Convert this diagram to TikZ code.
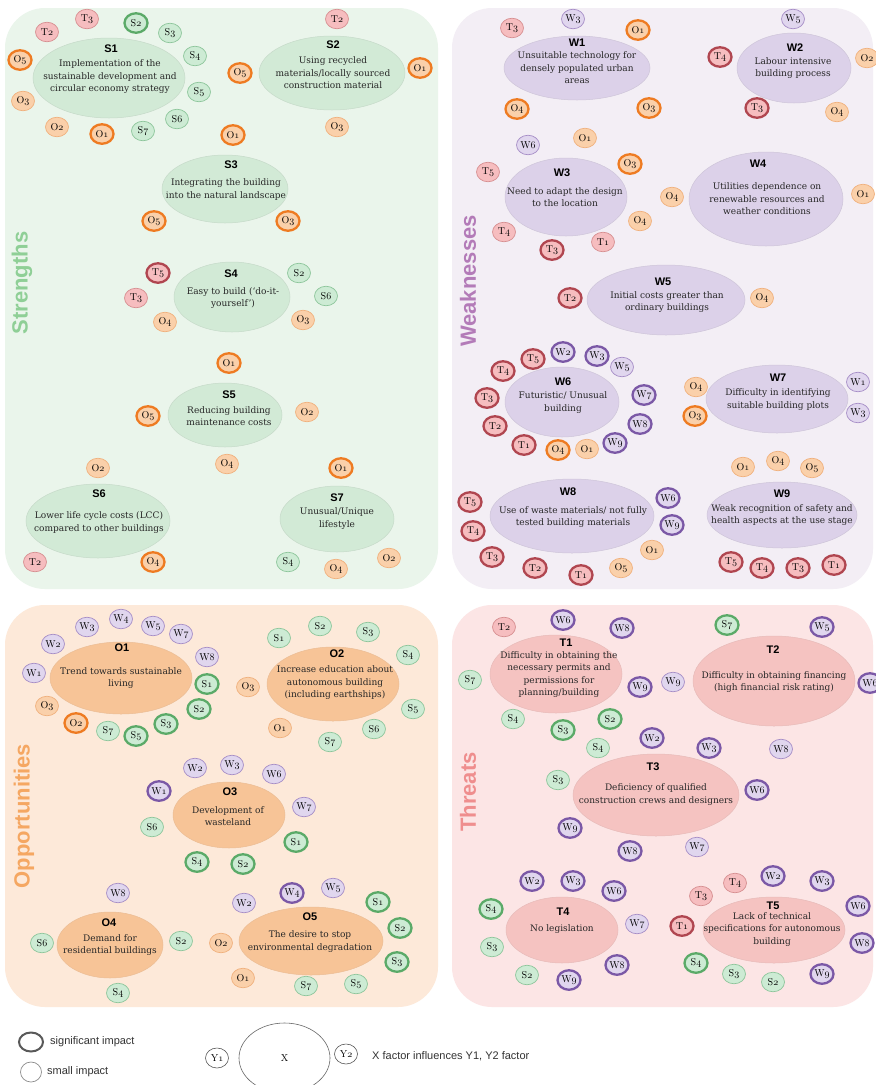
\documentclass[tikz,border=0pt]{standalone}
\usepackage{fontspec}
\newfontfamily\bodyfont{DejaVu Serif}
\newfontfamily\headfont{Liberation Sans}
\usetikzlibrary{shapes.geometric}
\definecolor{Sbg}{HTML}{EAF5EB}
\definecolor{Wbg}{HTML}{F3EEF5}
\definecolor{Obg}{HTML}{FDE9D9}
\definecolor{Tbg}{HTML}{FCE5E5}
\definecolor{Sbig}{HTML}{D2EAD6}
\definecolor{Wbig}{HTML}{DCD1E9}
\definecolor{Obig}{HTML}{F7C497}
\definecolor{Tbig}{HTML}{F5C3C1}
\definecolor{Sf}{HTML}{CDEBD4}
\definecolor{Sl}{HTML}{8CC59A}
\definecolor{Sd}{HTML}{5BAA68}
\definecolor{Of}{HTML}{FAD0AA}
\definecolor{Ol}{HTML}{F0B07C}
\definecolor{Od}{HTML}{EE7B22}
\definecolor{Tf}{HTML}{F6BDBF}
\definecolor{Tl}{HTML}{D68E90}
\definecolor{Td}{HTML}{B04650}
\definecolor{Wf}{HTML}{E0D6EE}
\definecolor{Wl}{HTML}{A58CC6}
\definecolor{Wd}{HTML}{7B58A6}
\definecolor{Slab}{HTML}{8FCF96}
\definecolor{Wlab}{HTML}{B37BB8}
\definecolor{Olab}{HTML}{F5A762}
\definecolor{Tlab}{HTML}{EF8E8E}
\definecolor{legtxtcol}{HTML}{333333}
\tikzset{
  sc/.style={ellipse, minimum width=23pt, minimum height=19.5pt, inner sep=0pt, font=\fontsize{10}{12}\selectfont},
  sthin/.style={sc, fill=Sf, draw=Sl, line width=0.7pt},
  sthick/.style={sc, fill=Sf, draw=Sd, line width=2.3pt},
  othin/.style={sc, fill=Of, draw=Ol, line width=0.7pt},
  othick/.style={sc, fill=Of, draw=Od, line width=2.3pt},
  tthin/.style={sc, fill=Tf, draw=Tl, line width=0.7pt},
  tthick/.style={sc, fill=Tf, draw=Td, line width=2.3pt},
  wthin/.style={sc, fill=Wf, draw=Wl, line width=0.7pt},
  wthick/.style={sc, fill=Wf, draw=Wd, line width=2.3pt},
  bigbase/.style={ellipse, inner sep=0pt, line width=0.5pt},
  bigS/.style={bigbase, fill=Sbig, draw=Sbig!85!gray},
  bigW/.style={bigbase, fill=Wbig, draw=Wbig!85!gray},
  bigO/.style={bigbase, fill=Obig, draw=Obig!90!gray},
  bigT/.style={bigbase, fill=Tbig, draw=Tbig!88!gray},
  hd/.style={inner sep=0pt, font=\headfont\bfseries\fontsize{11}{12}\selectfont},
  bt/.style={inner sep=0pt, align=center, text=black!85, font=\bodyfont\fontsize{9}{12.5}\selectfont},
  vlab/.style={inner sep=0pt, rotate=90, font=\headfont\bfseries\fontsize{22}{24}\selectfont},
  legtxt/.style={inner sep=0pt, text=legtxtcol, font=\headfont\fontsize{11}{12}\selectfont},
  legsm/.style={ellipse, minimum width=23pt, minimum height=20pt, inner sep=0pt, draw=black!65, line width=0.6pt, fill=white, font=\fontsize{10}{12}\selectfont},
}
\newcommand\sn[5]{\node[#1] (#2) at (#3) {#4$\mathnormal{#5}$};}
\newcommand\bigel[8]{\node[#1, minimum width=#4pt, minimum height=#5pt] (#2) at (#3) {};
  \node[hd] (#2h) at (#6) {#2};
  \node[bt] (#2t) at (#7) {#8};}
\begin{document}
\begin{tikzpicture}[x=1pt, y=-1pt]
\useasboundingbox (0,0) rectangle (876,1085);
\fill[white] (0,0) rectangle (876,1085);
% panels
\fill[Sbg, rounded corners=40pt] (5,8) rectangle (438,589);
\fill[Wbg, rounded corners=40pt] (452,8) rectangle (873,589);
\fill[Obg, rounded corners=40pt] (5,605) rectangle (438,1007);
\fill[Tbg, rounded corners=40pt] (452,605) rectangle (873,1007);
% vertical labels
\node[vlab, text=Slab] (Ls) at (22,283) {Strengths};
\node[vlab, text=Wlab] (Lw) at (468,281) {Weaknesses};
\node[vlab, text=Olab] (Lo) at (24,816) {Opportunities};
\node[vlab, text=Tlab] (Lt) at (468,792) {Threats};
% big ellipses
\bigel{bigS}{S1}{109,78}{152}{80}{111,49}{110,77}{Implementation of the\\sustainable development and\\circular economy strategy}
\bigel{bigS}{S2}{332,73}{146}{74}{333,45}{333,73}{Using recycled\\materials/locally sourced\\construction material}
\bigel{bigS}{S3}{225,189}{126}{68}{231,165}{226,189.5}{Integrating the building\\into the natural landscape}
\bigel{bigS}{S4}{232,297}{116}{70}{231,274}{233,298}{Easy to build (‘do-it-\\yourself’)}
\bigel{bigS}{S5}{225,415}{114}{64}{229,395}{229,416}{Reducing building\\maintenance costs}
\bigel{bigS}{S6}{98,521}{144}{74}{99,494}{99,522.5}{Lower life cycle costs (LCC)\\compared to other buildings}
\bigel{bigS}{S7}{337,519}{114}{66}{337,498}{337,518.5}{Unusual/Unique\\lifestyle}
\bigel{bigW}{W1}{577,68}{146}{64}{577,43}{577,68}{Unsuitable technology for\\densely populated urban\\areas}
\bigel{bigW}{W2}{794,68}{114}{70}{795,48}{793,68}{Labour intensive\\building process}
\bigel{bigW}{W3}{566,197}{122}{78}{562,173}{565,197}{Need to adapt the design\\to the location}
\bigel{bigW}{W4}{766,199}{154}{94}{758,164}{767,199}{Utilities dependence on\\renewable resources and\\weather conditions}
\bigel{bigW}{W5}{666,300}{158}{70}{663,282}{667,302}{Initial costs greater than\\ordinary buildings}
\bigel{bigW}{W6}{562,402}{114}{70}{563,382}{563,402.5}{Futuristic/ Unusual\\building}
\bigel{bigW}{W7}{777,399}{142}{68}{778,378}{778,399.5}{Difficulty in identifying\\suitable building plots}
\bigel{bigW}{W8}{572,516}{164}{74}{568,492}{573,517}{Use of waste materials/ not fully\\tested building materials}
\bigel{bigW}{W9}{782,515}{150}{66}{782,494}{782,515}{Weak recognition of safety and\\health aspects at the use stage}
\bigel{bigO}{O1}{121,678}{142}{72}{122,648}{121,678}{Trend towards sustainable\\living}
\bigel{bigO}{O2}{333,684}{132}{74}{337,654}{335,683}{Increase education about\\autonomous building\\(including earthships)}
\bigel{bigO}{O3}{229,815}{112}{66}{230,792}{228,816}{Development of\\wasteland}
\bigel{bigO}{O4}{110,945}{106}{66}{109,923}{110,945}{Demand for\\residential buildings}
\bigel{bigO}{O5}{311,941}{144}{68}{310,917}{310,941.5}{The desire to stop\\environmental degradation}
\bigel{bigT}{T1}{556,674}{132}{78}{566,643}{559,674.5}{Difficulty in obtaining the\\necessary permits and\\permissions for\\planning/building}
\bigel{bigT}{T2}{774,681}{162}{90}{773,650}{774,682}{Difficulty in obtaining financing\\(high financial risk rating)}
\bigel{bigT}{T3}{656,795}{166}{82}{653,767}{656,794.5}{Deficiency of qualified\\construction crews and designers}
\bigel{bigT}{T4}{562,930}{112}{66}{563,912}{562,929}{No legislation}
\bigel{bigT}{T5}{774,930}{142}{66}{773,906}{772,929.5}{Lack of technical\\specifications for autonomous\\building}
% ---- Strengths small circles
\sn{tthin}{s1a}{47,32}{T}{2}
\sn{tthin}{s1b}{87,19}{T}{3}
\sn{sthick}{s1c}{136,23}{S}{2}
\sn{sthin}{s1d}{170,33}{S}{3}
\sn{sthin}{s1e}{195,56}{S}{4}
\sn{sthin}{s1f}{199,92}{S}{5}
\sn{sthin}{s1g}{177,119}{S}{6}
\sn{sthin}{s1h}{143,131}{S}{7}
\sn{othick}{s1i}{102,134}{O}{1}
\sn{othin}{s1j}{57,127}{O}{2}
\sn{othin}{s1k}{23,101}{O}{3}
\sn{othick}{s1l}{20,60}{O}{5}
\sn{tthin}{s2a}{337,19}{T}{2}
\sn{othick}{s2b}{240,73}{O}{5}
\sn{othick}{s2c}{420,68}{O}{1}
\sn{othin}{s2d}{337,127}{O}{3}
\sn{othick}{s3a}{233,135}{O}{1}
\sn{othick}{s3b}{154,221}{O}{5}
\sn{othick}{s3c}{288,221}{O}{3}
\sn{tthick}{s4a}{158,273}{T}{5}
\sn{tthin}{s4b}{136,298}{T}{3}
\sn{sthin}{s4c}{299,273}{S}{2}
\sn{sthin}{s4d}{326,296}{S}{6}
\sn{othin}{s4e}{165,322}{O}{4}
\sn{othin}{s4f}{303,320}{O}{3}
\sn{othick}{s5a}{229,363}{O}{1}
\sn{othick}{s5b}{148,416}{O}{5}
\sn{othin}{s5c}{307,412}{O}{2}
\sn{othin}{s5d}{227,464}{O}{4}
\sn{othin}{s6a}{98,468}{O}{2}
\sn{tthin}{s6b}{35,562}{T}{2}
\sn{othick}{s6c}{153,562}{O}{4}
\sn{othick}{s7a}{341,468}{O}{1}
\sn{sthin}{s7b}{288,562}{S}{4}
\sn{othin}{s7c}{336,569}{O}{4}
\sn{othin}{s7d}{389,558}{O}{2}
% ---- Weaknesses small circles
\sn{tthin}{w1a}{512,28}{T}{3}
\sn{wthin}{w1b}{573,19}{W}{3}
\sn{othick}{w1c}{638,30}{O}{1}
\sn{othick}{w1d}{517,109}{O}{4}
\sn{othick}{w1e}{649,108}{O}{3}
\sn{wthin}{w2a}{793,19}{W}{5}
\sn{tthick}{w2b}{720,57}{T}{4}
\sn{othin}{w2c}{867,58}{O}{2}
\sn{tthick}{w2d}{757,108}{T}{3}
\sn{othin}{w2e}{837,112}{O}{4}
\sn{wthin}{w3a}{528,145}{W}{6}
\sn{othin}{w3b}{585,138}{O}{1}
\sn{othick}{w3c}{630,164}{O}{3}
\sn{tthin}{w3d}{488,172}{T}{5}
\sn{tthin}{w3e}{504,232}{T}{4}
\sn{tthick}{w3f}{552,250}{T}{3}
\sn{tthin}{w3g}{603,242}{T}{1}
\sn{othin}{w3h}{640,221}{O}{4}
\sn{othin}{w4a}{672,197}{O}{4}
\sn{othin}{w4b}{863,194}{O}{1}
\sn{tthick}{w5a}{570,298}{T}{2}
\sn{othin}{w5b}{762,298}{O}{4}
\sn{tthick}{w6a}{533,359}{T}{5}
\sn{wthick}{w6b}{563,352}{W}{2}
\sn{wthick}{w6c}{597,356}{W}{3}
\sn{wthin}{w6d}{622,367}{W}{5}
\sn{tthick}{w6e}{503,371}{T}{4}
\sn{tthick}{w6f}{487,398}{T}{3}
\sn{wthick}{w6g}{644,395}{W}{7}
\sn{tthick}{w6h}{495,426}{T}{2}
\sn{wthick}{w6i}{640,424}{W}{8}
\sn{tthick}{w6j}{524,445}{T}{1}
\sn{othick}{w6k}{558,450}{O}{4}
\sn{othin}{w6l}{587,449}{O}{1}
\sn{wthick}{w6m}{615,443}{W}{9}
\sn{othin}{w7a}{696,387}{O}{4}
\sn{othick}{w7b}{695,416}{O}{3}
\sn{wthin}{w7c}{858,382}{W}{1}
\sn{wthin}{w7d}{858,413}{W}{3}
\sn{tthick}{w8a}{470,502}{T}{5}
\sn{tthick}{w8b}{473,531}{T}{4}
\sn{tthick}{w8c}{492,557}{T}{3}
\sn{tthick}{w8d}{535,568}{T}{2}
\sn{tthick}{w8e}{581,575}{T}{1}
\sn{othin}{w8f}{621,568}{O}{5}
\sn{othin}{w8g}{652,550}{O}{1}
\sn{wthick}{w8h}{668,498}{W}{6}
\sn{wthick}{w8i}{672,525}{W}{9}
\sn{othin}{w9a}{743,467}{O}{1}
\sn{othin}{w9b}{778,461}{O}{4}
\sn{othin}{w9c}{812,468}{O}{5}
\sn{tthick}{w9d}{731,562}{T}{5}
\sn{tthick}{w9e}{762,568}{T}{4}
\sn{tthick}{w9f}{798,568}{T}{3}
\sn{tthick}{w9g}{834,565}{T}{1}
% ---- Opportunities small circles
\sn{wthin}{o1a}{34,673}{W}{1}
\sn{wthin}{o1b}{53,644}{W}{2}
\sn{wthin}{o1c}{87,627}{W}{3}
\sn{wthin}{o1d}{121,619}{W}{4}
\sn{wthin}{o1e}{153,626}{W}{5}
\sn{wthin}{o1f}{181,634}{W}{7}
\sn{wthin}{o1g}{207,657}{W}{8}
\sn{sthick}{o1h}{207,684}{S}{1}
\sn{sthick}{o1i}{199,709}{S}{2}
\sn{sthick}{o1j}{166,724}{S}{3}
\sn{sthick}{o1k}{136,736}{S}{5}
\sn{sthin}{o1l}{108,731}{S}{7}
\sn{othick}{o1m}{76,723}{O}{2}
\sn{othin}{o1n}{47,706}{O}{3}
\sn{sthin}{o2a}{279,638}{S}{1}
\sn{sthin}{o2b}{320,626}{S}{2}
\sn{sthin}{o2c}{368,632}{S}{3}
\sn{sthin}{o2d}{408,655}{S}{4}
\sn{sthin}{o2e}{413,709}{S}{5}
\sn{sthin}{o2f}{374,729}{S}{6}
\sn{sthin}{o2g}{330,742}{S}{7}
\sn{othin}{o2h}{280,728}{O}{1}
\sn{othin}{o2i}{248,687}{O}{3}
\sn{wthick}{o3a}{159,791}{W}{1}
\sn{wthin}{o3b}{195,768}{W}{2}
\sn{wthin}{o3c}{232,765}{W}{3}
\sn{wthin}{o3d}{274,774}{W}{6}
\sn{wthin}{o3e}{304,807}{W}{7}
\sn{sthick}{o3f}{296,842}{S}{1}
\sn{sthick}{o3g}{243,864}{S}{2}
\sn{sthick}{o3h}{197,862}{S}{4}
\sn{sthin}{o3i}{152,827}{S}{6}
\sn{wthin}{o4a}{118,893}{W}{8}
\sn{sthin}{o4b}{42,943}{S}{6}
\sn{sthin}{o4c}{181,941}{S}{2}
\sn{sthin}{o4d}{118,993}{S}{4}
\sn{wthin}{o5a}{244,903}{W}{2}
\sn{wthick}{o5b}{292,893}{W}{4}
\sn{wthin}{o5c}{333,888}{W}{5}
\sn{sthick}{o5d}{378,902}{S}{1}
\sn{sthick}{o5e}{400,928}{S}{2}
\sn{sthick}{o5f}{397,962}{S}{3}
\sn{sthin}{o5g}{356,984}{S}{5}
\sn{sthin}{o5h}{306,986}{S}{7}
\sn{othin}{o5i}{243,978}{O}{1}
\sn{othin}{o5j}{221,943}{O}{2}
% ---- Threats small circles
\sn{tthin}{t1a}{504,627}{T}{2}
\sn{wthick}{t1b}{563,620}{W}{6}
\sn{wthick}{t1c}{622,628}{W}{8}
\sn{wthick}{t1d}{640,687}{W}{9}
\sn{sthin}{t1e}{470,680}{S}{7}
\sn{sthin}{t1f}{513,719}{S}{4}
\sn{sthick}{t1g}{563,730}{S}{3}
\sn{sthick}{t1h}{610,719}{S}{2}
\sn{sthick}{t2a}{727,625}{S}{7}
\sn{wthick}{t2b}{822,627}{W}{5}
\sn{wthick}{t2c}{870,683}{W}{6}
\sn{wthin}{t2d}{673,682}{W}{9}
\sn{wthin}{t2e}{781,749}{W}{8}
\sn{wthick}{t3a}{652,738}{W}{2}
\sn{wthick}{t3b}{709,748}{W}{3}
\sn{sthin}{t3c}{598,748}{S}{4}
\sn{sthin}{t3d}{558,780}{S}{3}
\sn{wthick}{t3e}{757,790}{W}{6}
\sn{wthick}{t3f}{570,828}{W}{9}
\sn{wthick}{t3g}{630,851}{W}{8}
\sn{wthin}{t3h}{697,847}{W}{7}
\sn{wthick}{t4a}{532,881}{W}{2}
\sn{wthick}{t4b}{573,881}{W}{3}
\sn{wthick}{t4c}{614,891}{W}{6}
\sn{wthin}{t4d}{637,924}{W}{7}
\sn{wthick}{t4e}{617,965}{W}{8}
\sn{wthick}{t4f}{569,980}{W}{9}
\sn{sthin}{t4g}{527,975}{S}{2}
\sn{sthin}{t4h}{492,947}{S}{3}
\sn{sthick}{t4i}{491,909}{S}{4}
\sn{tthin}{t5a}{735,883}{T}{4}
\sn{tthin}{t5b}{701,896}{T}{3}
\sn{tthick}{t5c}{682,926}{T}{1}
\sn{wthick}{t5d}{773,876}{W}{2}
\sn{wthick}{t5e}{822,881}{W}{3}
\sn{wthick}{t5f}{858,906}{W}{6}
\sn{wthick}{t5g}{862,943}{W}{8}
\sn{wthick}{t5h}{822,974}{W}{9}
\sn{sthin}{t5i}{773,982}{S}{2}
\sn{sthin}{t5j}{734,974}{S}{3}
\sn{sthick}{t5k}{696,963}{S}{4}
% ---- legend
\node[ellipse, minimum width=24pt, minimum height=19pt, inner sep=0pt, draw=black!65, line width=2pt, fill=white] (lgA) at (31,1042) {};
\node[legtxt, anchor=west] (lgAt) at (50,1042) {significant impact};
\node[ellipse, minimum width=21pt, minimum height=20pt, inner sep=0pt, draw=black!45, line width=0.7pt, fill=white] (lgB) at (31,1072) {};
\node[legtxt, anchor=west] (lgBt) at (47,1072) {small impact};
\node[legsm] (lgY1) at (217,1058) {Y$\mathnormal{1}$};
\node[ellipse, minimum width=91pt, minimum height=70pt, inner sep=0pt, draw=black!60, line width=0.6pt, font=\fontsize{10}{12}\selectfont] (lgX) at (284.5,1058) {X};
\node[legsm] (lgY2) at (346,1054) {Y$\mathnormal{2}$};
\node[legtxt, anchor=west] (lgT) at (372,1056) {X factor influences Y1, Y2 factor};
\end{tikzpicture}
\end{document}
